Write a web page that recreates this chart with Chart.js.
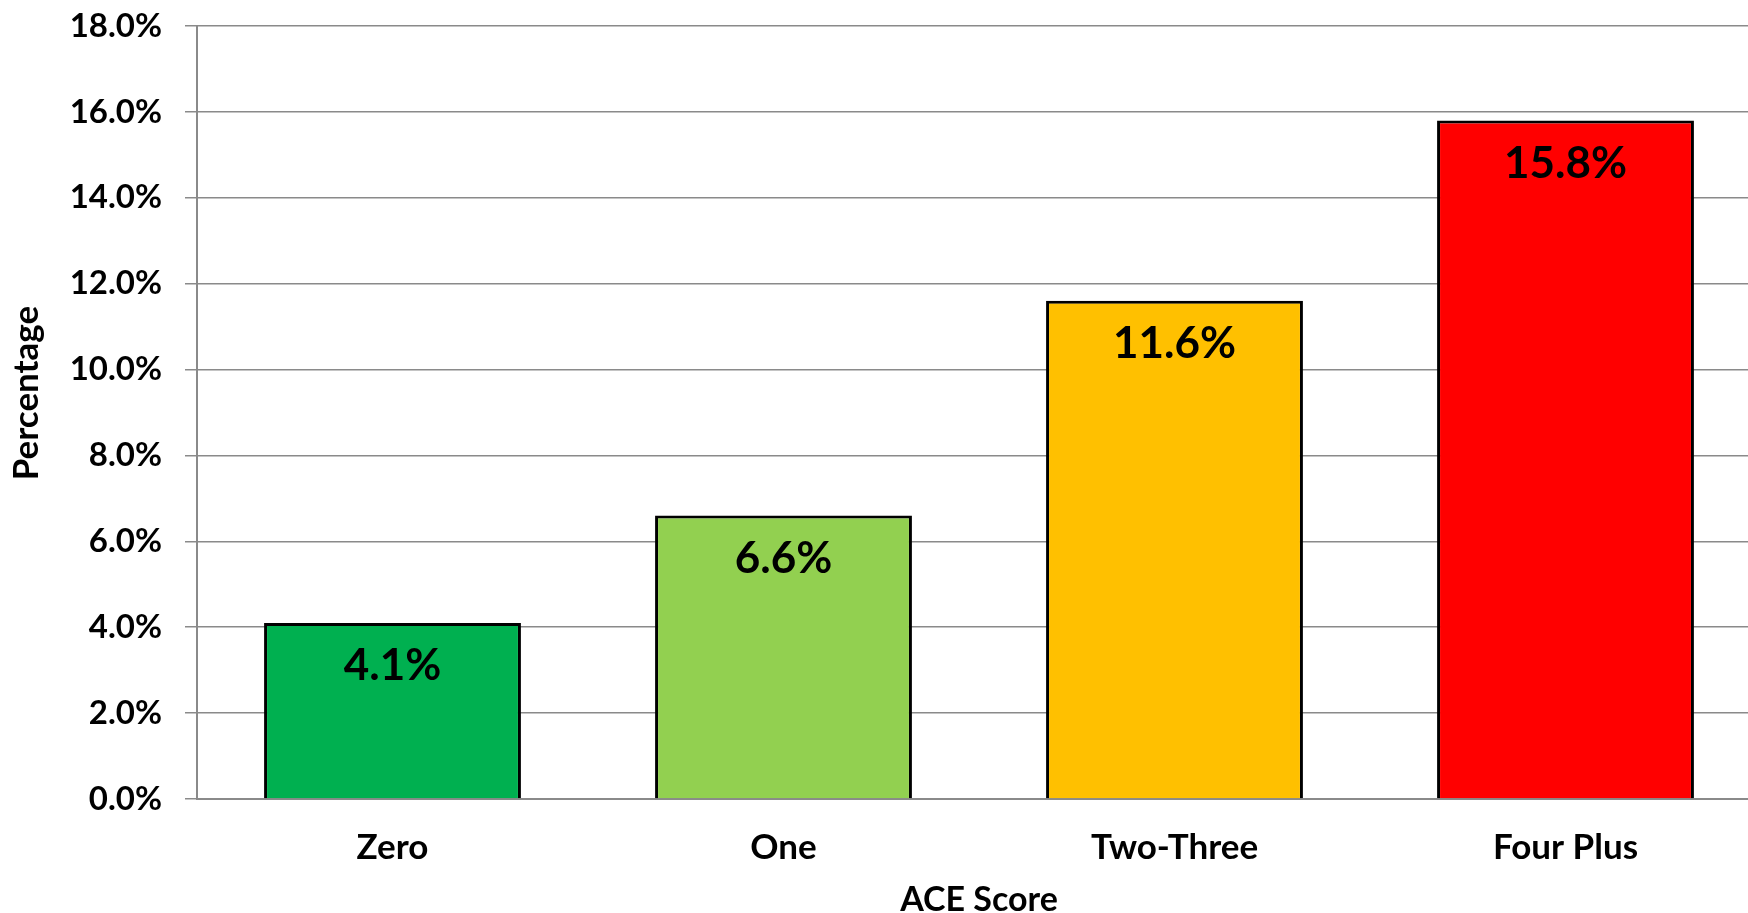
<!DOCTYPE html>
<html>
<head>
<meta charset="utf-8">
<script src="https://cdn.jsdelivr.net/npm/chart.js@4"></script>
<style>
  html, body { margin: 0; padding: 0; background: #fff; overflow: hidden; }
  #wrap { position: relative; width: 1762px; height: 913px; }
</style>
</head>
<body>
<div id="wrap"><canvas id="aceChart"></canvas></div>
<script>
const categories = ['Zero', 'One', 'Two-Three', 'Four Plus'];
const percentages = [4.1, 6.6, 11.6, 15.8];
const barColors = ['#00B050', '#92D050', '#FFC000', '#FF0000'];
const yTicks = [0, 2, 4, 6, 8, 10, 12, 14, 16, 18];
const xTitle = 'ACE Score';
const yTitle = 'Percentage';

const fontFamily = 'Lato, "Open Sans", sans-serif';
const gridColor = '#8a8a8a';

// value labels inside the top of each bar + axis titles
const labelPlugin = {
  id: 'labels',
  afterDatasetsDraw(chart) {
    const ctx = chart.ctx;
    const meta = chart.getDatasetMeta(0);
    ctx.save();
    ctx.fillStyle = '#000';
    ctx.textAlign = 'center';
    ctx.textBaseline = 'middle';
    ctx.font = 'bold 44px ' + fontFamily;
    meta.data.forEach((bar, i) => {
      ctx.fillText(percentages[i].toFixed(1) + '%', bar.x, bar.y + 43);
    });

    const area = chart.chartArea;
    ctx.font = 'bold 34px ' + fontFamily;
    ctx.fillText(xTitle, (area.left + area.right) / 2, 900);

    ctx.font = 'bold 35px ' + fontFamily;
    ctx.translate(27, 393);
    ctx.rotate(-Math.PI / 2);
    ctx.fillText(yTitle, 0, 0);
    ctx.restore();
  }
};

new Chart(document.getElementById('aceChart'), {
  type: 'bar',
  data: {
    labels: categories,
    datasets: [{
      data: percentages,
      backgroundColor: barColors,
      borderColor: '#000',
      borderWidth: 3,
      barPercentage: 0.657,
      categoryPercentage: 1
    }]
  },
  options: {
    responsive: true,
    maintainAspectRatio: false,
    animation: false,
    layout: { padding: { top: 26, right: 1, left: 0, bottom: 0 } },
    plugins: {
      legend: { display: false },
      tooltip: { enabled: false }
    },
    scales: {
      x: {
        grid: { display: false, drawTicks: false },
        border: { color: gridColor, width: 2 },
        ticks: {
          color: '#000',
          padding: 28,
          font: { family: fontFamily, size: 35, weight: 'bold' }
        },
        afterFit(scale) { scale.height = 114; }
      },
      y: {
        min: 0,
        max: 18,
        afterBuildTicks(scale) { scale.ticks = yTicks.map(v => ({ value: v })); },
        grid: { color: gridColor, lineWidth: 1.5, tickLength: 12 },
        border: { color: gridColor, width: 2 },
        ticks: {
          color: '#000',
          padding: 23,
          font: { family: fontFamily, size: 33, weight: 'bold' },
          callback: v => v.toFixed(1) + '%'
        },
        afterFit(scale) {
          scale.width = 197;
          scale.paddingTop = 0;
          scale.paddingBottom = 0;
        }
      }
    }
  },
  plugins: [labelPlugin]
});
</script>
</body>
</html>
